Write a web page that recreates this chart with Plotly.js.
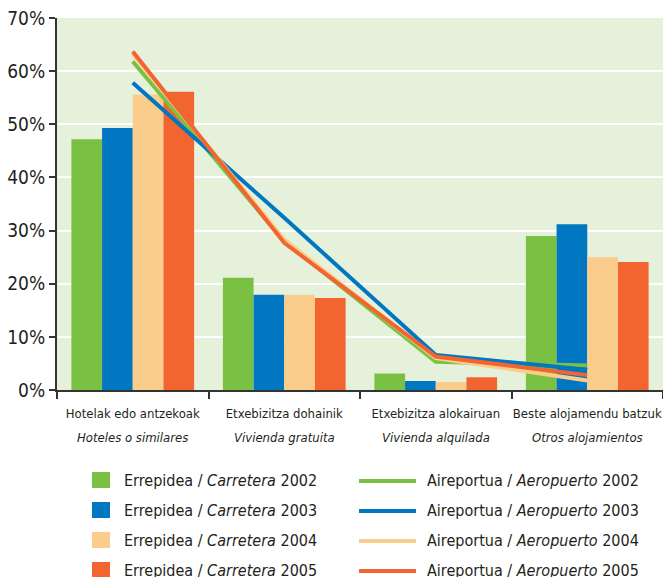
<!DOCTYPE html>
<html>
<head>
<meta charset="utf-8">
<script src="https://cdn.plot.ly/plotly-3.0.1.min.js"></script>
<style>
  html, body { margin: 0; padding: 0; background: #ffffff; overflow: hidden; }
  #chart { width: 663px; height: 577px; }
  #chart text { font-stretch: condensed !important; }
</style>
</head>
<body>
<div id="chart"></div>
<script>
// ---- Data ----
const categoriesEu = ['Hotelak edo antzekoak', 'Etxebizitza dohainik', 'Etxebizitza alokairuan', 'Beste alojamendu batzuk'];
const categoriesEs = ['Hoteles o similares', 'Vivienda gratuita', 'Vivienda alquilada', 'Otros alojamientos'];
const years = ['2002', '2003', '2004', '2005'];

const road2002 = [47.2, 21.1, 3.1, 29.0];
const road2003 = [49.3, 17.9, 1.7, 31.2];
const road2004 = [55.6, 17.9, 1.5, 25.0];
const road2005 = [56.1, 17.3, 2.4, 24.1];

const air2002 = [61.8, 28.0, 5.3, 4.6];
const air2003 = [57.8, 32.4, 6.6, 3.8];
const air2004 = [63.2, 28.3, 6.0, 1.8];
const air2005 = [63.7, 27.7, 6.3, 2.8];

const yTickVals = [0, 10, 20, 30, 40, 50, 60, 70];
const yTickText = ['0%', '10%', '20%', '30%', '40%', '50%', '60%', '70%'];

// ---- Styles ----
const colors = ['#7ac143', '#0077c0', '#fbcd8c', '#f26531'];
const FONT = '"DejaVu Sans Condensed", "DejaVu Sans", sans-serif';
const TEXT = '#231f20';

const roadSeries = [road2002, road2003, road2004, road2005];
const airSeries = [air2002, air2003, air2004, air2005];

const traces = [];
roadSeries.forEach((vals, i) => {
  traces.push({
    type: 'bar', x: categoriesEu, y: vals,
    name: 'Errepidea / <i>Carretera</i> ' + years[i],
    marker: { color: colors[i], line: { width: 0 } },
    hoverinfo: 'skip', showlegend: false
  });
});
airSeries.forEach((vals, i) => {
  traces.push({
    type: 'scatter', mode: 'lines', x: categoriesEu, y: vals,
    name: 'Airportua / <i>Aeropuerto</i> ' + years[i],
    line: { color: colors[i], width: 4 },
    hoverinfo: 'skip', showlegend: false
  });
});

// ---- Pixel helpers ----
const L = 57, R = 0, T = 18, B = 187, W = 663, H = 577;
const pw = W - L - R, ph = H - T - B;
const px = x => (x - L) / pw;
const py = y => (H - B - y) / ph;

const shapes = [];
const annotations = [];

// Spanish (italic) second line of the category labels
categoriesEu.forEach((cat, i) => {
  annotations.push({
    xref: 'x', yref: 'paper', x: cat, y: py(437),
    xanchor: 'center', yanchor: 'middle', showarrow: false,
    text: '<i>' + categoriesEs[i] + '</i>',
    font: { family: FONT, size: 13, color: TEXT }
  });
});

// ---- Manual legend ----
const rowY = [480, 510, 540, 570];
years.forEach((yr, i) => {
  const cy = rowY[i];
  shapes.push({
    type: 'rect', xref: 'paper', yref: 'paper',
    x0: px(92), x1: px(110), y0: py(cy + 8), y1: py(cy - 8),
    fillcolor: colors[i], line: { width: 0 }
  });
  annotations.push({
    xref: 'paper', yref: 'paper', x: px(122), y: py(cy),
    xanchor: 'left', yanchor: 'middle', showarrow: false,
    text: 'Errepidea / <i>Carretera</i> ' + yr,
    font: { family: FONT, size: 16, color: TEXT }
  });
  shapes.push({
    type: 'line', xref: 'paper', yref: 'paper',
    x0: px(359), x1: px(416), y0: py(cy + 1), y1: py(cy + 1),
    line: { color: colors[i], width: 4 }
  });
  annotations.push({
    xref: 'paper', yref: 'paper', x: px(425), y: py(cy),
    xanchor: 'left', yanchor: 'middle', showarrow: false,
    text: 'Aireportua / <i>Aeropuerto</i> ' + yr,
    font: { family: FONT, size: 16, color: TEXT }
  });
});

const layout = {
  width: W, height: H,
  margin: { l: L, r: R, t: T, b: B, pad: 0 },
  paper_bgcolor: '#ffffff',
  plot_bgcolor: '#e6f1dc',
  barmode: 'group',
  bargap: 0.19,
  bargroupgap: 0,
  showlegend: false,
  font: { family: FONT, color: TEXT },
  xaxis: {
    type: 'category',
    showgrid: false,
    showline: true, linecolor: '#333333', linewidth: 2,
    ticks: 'outside', tickson: 'boundaries', ticklen: 7, tickwidth: 2, tickcolor: '#333333',
    tickangle: 0,
    ticklabelstandoff: 10,
    tickfont: { family: FONT, size: 13, color: TEXT },
    fixedrange: true, automargin: false
  },
  yaxis: {
    range: [0, 70],
    tickmode: 'array',
    tickvals: yTickVals,
    ticktext: yTickText,
    showgrid: true, gridcolor: '#ffffff', gridwidth: 2,
    zeroline: false,
    showline: true, linecolor: '#333333', linewidth: 2,
    ticks: 'outside', ticklen: 6, tickwidth: 2, tickcolor: '#333333',
    tickfont: { family: FONT, size: 19, color: TEXT },
    fixedrange: true, automargin: false
  },
  shapes: shapes,
  annotations: annotations
};

Plotly.newPlot('chart', traces, layout, { staticPlot: true, displayModeBar: false });
</script>
</body>
</html>
